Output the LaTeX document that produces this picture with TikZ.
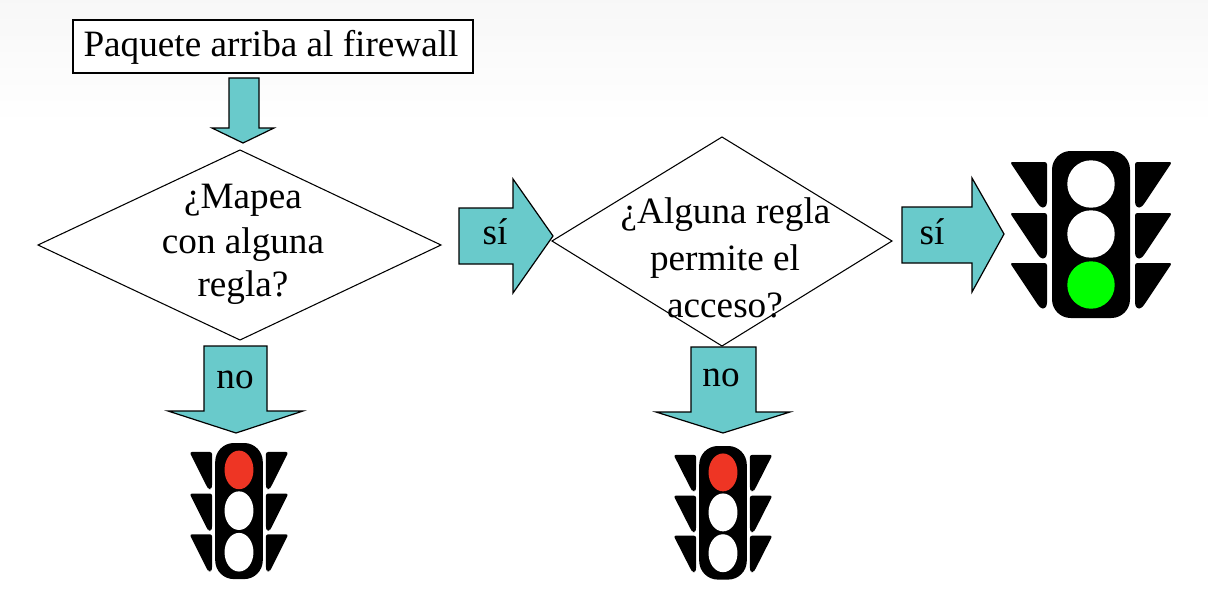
\documentclass[tikz,border=0pt]{standalone}
\usepackage{fontspec}
\setmainfont{Liberation Serif}
\usetikzlibrary{shapes.geometric}
\definecolor{teal1}{HTML}{69CACB}
\definecolor{redl}{HTML}{EE3524}
\definecolor{greenl}{HTML}{00FF00}
\tikzset{
  x=0.75pt,y=-0.75pt,
  lbl/.style={inner sep=0pt,font=\fontsize{27.9}{27.9}\selectfont,text=black},
  blockarrow/.style={draw=black,line width=0.9pt,fill=teal1,line join=miter},
  flowline/.style={draw=black,line width=0.8pt,fill=white},
  tri/.style={fill=black,draw=none,rounded corners=1.8pt},
}
\newcommand{\semaforo}[6]{%
 % cx, top, xscale, yscale, top colour, bottom colour
 \begin{scope}[shift={(#1,#2)},xscale=#3,yscale=#4]
  \fill[black,rounded corners=14pt] (-39,0) rectangle (39,167);
  \foreach \dy in {0,51,101}{
    \fill[tri] (-81,11+\dy) -- (-44,11+\dy) -- (-44,53+\dy) -- (-46,56.5+\dy) -- (-50,56.5+\dy) -- (-53,53+\dy) -- cycle;
    \fill[tri] (81,11+\dy) -- (44,11+\dy) -- (44,53+\dy) -- (46,56.5+\dy) -- (50,56.5+\dy) -- (53,53+\dy) -- cycle;
  }
  \fill[#5] (0,33) circle[radius=23.7];
  \fill[white] (0,83) circle[radius=23.7];
  \fill[#6] (0,134) circle[radius=23.7];
 \end{scope}}
\begin{document}
\begin{tikzpicture}
\useasboundingbox (0,0) rectangle (1208,590);
\fill[white] (0,0) rectangle (1208,590);
\shade[top color=black!3,bottom color=white,draw=none] (0,0) rectangle (1208,125);
% start box
\node[flowline,lbl,minimum width=300pt,minimum height=39.75pt] (start) at (273,46.5) {};
\node[lbl] (starttext) at (271,47) {Paquete arriba al firewall};
% diamonds
\draw[flowline] (38,245) -- (240,150) -- (441,245) -- (240,340) -- cycle;
\node[lbl] (q1a) at (243,200) {¿Mapea};
\node[lbl] (q1b) at (243,245) {con alguna};
\node[lbl] (q1c) at (243,288) {regla?};
\draw[flowline] (552,241) -- (722,137) -- (892,241) -- (722,346) -- cycle;
\node[lbl] (q2a) at (725.5,215) {¿Alguna regla};
\node[lbl] (q2b) at (725,262) {permite el};
\node[lbl] (q2c) at (725,305) {acceso?};
% block arrows
\draw[blockarrow] (229,78) -- (259,78) -- (259,128) -- (274,128) -- (243,143) -- (212,128) -- (229,128) -- cycle;
\draw[blockarrow] (459,208) -- (513,208) -- (513,179) -- (553,236) -- (513,293) -- (513,264) -- (459,264) -- cycle;
\node[lbl] (si1) at (495,232) {sí};
\draw[blockarrow] (902,207) -- (972,207) -- (972,178) -- (1004,234) -- (972,292) -- (972,263) -- (902,263) -- cycle;
\node[lbl] (si2) at (932,232) {sí};
\draw[blockarrow] (204,346) -- (267,346) -- (267,411) -- (303,411) -- (236,433) -- (168,411) -- (204,411) -- cycle;
\node[lbl] (no1) at (235,380) {no};
\draw[blockarrow] (691,347) -- (756,347) -- (756,412) -- (790,412) -- (723,433) -- (656,412) -- (691,412) -- cycle;
\node[lbl] (no2) at (721,378) {no};
% traffic lights
\semaforo{1091}{151}{1}{1}{white}{greenl}
\semaforo{239}{443}{0.61}{0.815}{redl}{white}
\semaforo{723}{446}{0.61}{0.80}{redl}{white}
\end{tikzpicture}
\end{document}
